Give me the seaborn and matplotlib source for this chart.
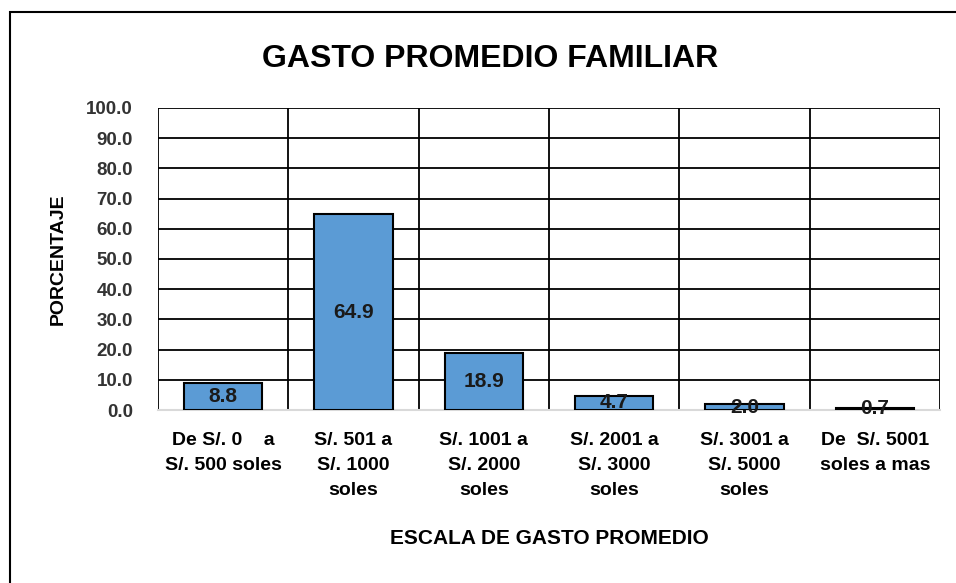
import matplotlib
matplotlib.use("Agg")
import matplotlib.pyplot as plt
import seaborn as sns
import pandas as pd
from matplotlib.patches import Rectangle

categorias = ["De S/. 0    a\nS/. 500 soles", "S/. 501 a\nS/. 1000\nsoles",
              "S/. 1001 a\nS/. 2000\nsoles", "S/. 2001 a\nS/. 3000\nsoles",
              "S/. 3001 a\nS/. 5000\nsoles", "De  S/. 5001\nsoles a mas"]
porcentajes = [8.8, 64.9, 18.9, 4.7, 2.0, 0.7]
yticks = [0, 10, 20, 30, 40, 50, 60, 70, 80, 90, 100]

sns.set_theme(style="white")
plt.rcParams["font.family"] = ["Liberation Sans Narrow", "Liberation Sans", "DejaVu Sans"]
plt.rcParams["text.color"] = "black"
plt.rcParams["axes.labelcolor"] = "black"

df = pd.DataFrame({"cat": categorias, "pct": porcentajes})

fig = plt.figure(figsize=(9.56, 5.83), dpi=100)
ax = fig.add_axes([0.1653, 0.2967, 0.818, 0.5181])

sns.barplot(data=df, x="cat", y="pct", color="#5B9BD5", edgecolor="black",
            linewidth=1.5, width=0.6, saturation=1, ax=ax, zorder=3)

ax.set_ylim(0, 100)
ax.set_xlim(-0.5, len(categorias) - 0.5)
ax.set_yticks(yticks)
ax.set_yticklabels([f"{v:.1f}" for v in yticks], fontsize=13.5, fontweight="bold", color="#333333")
ax.set_xticklabels(categorias, fontsize=14, fontweight="bold", color="black", linespacing=1.6)
ax.tick_params(axis="y", length=0, pad=18)
ax.tick_params(axis="x", length=0, pad=16)

# grid
for v in yticks[1:]:
    ax.axhline(v, color="black", linewidth=1.3, zorder=1)
for i in range(len(categorias) + 1):
    ax.axvline(i - 0.5, color="black", linewidth=1.3, zorder=1)
for s in ["top", "left", "right"]:
    ax.spines[s].set_visible(False)
ax.spines["bottom"].set_color("#D9D9D9")
ax.spines["bottom"].set_linewidth(1.5)

for i, v in enumerate(porcentajes):
    ax.text(i, v / 2, f"{v:.1f}", ha="center", va="center", fontsize=15,
            fontweight="bold", color="#1a1a1a", zorder=5)

ax.set_xlabel("ESCALA DE GASTO PROMEDIO", fontsize=15, fontweight="bold", labelpad=22)
ax.set_ylabel("PORCENTAJE", fontsize=14, fontweight="bold", labelpad=14)

fig.text(0.513, 0.898, "GASTO PROMEDIO FAMILIAR", ha="center", va="center",
         fontsize=23, fontweight="bold")

fig.patches.append(Rectangle((10 / 956, -0.05), 1.2, 1 - 12 / 583 + 0.05,
                             transform=fig.transFigure, fill=False,
                             edgecolor="black", linewidth=1.5))

fig.savefig("out.png", dpi=100)
